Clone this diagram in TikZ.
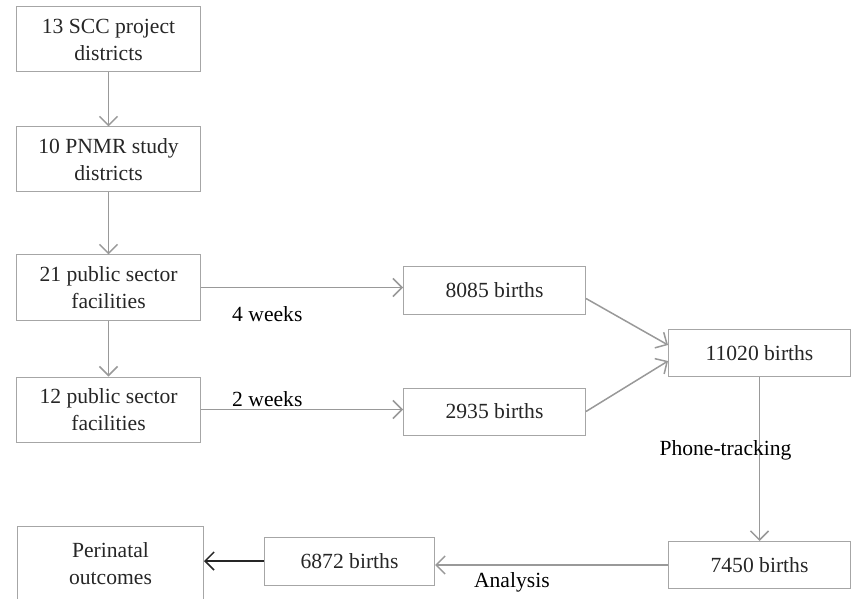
\documentclass[tikz,border=0pt]{standalone}
\usepackage{fontspec}
\setmainfont{Liberation Serif}
\usetikzlibrary{arrows.meta}

\begin{document}
\begin{tikzpicture}[node distance=60pt, >={Straight Barb[length=4.5pt,width=9pt]}, font=\fontsize{10.8}{13.5}\selectfont]
			\tikzset{
				site/.style={rectangle, minimum width=91.5pt, minimum height=32.5pt, align=center, draw=gray!70, line width=0.5pt, text=black!85},
				count/.style={rectangle, minimum width=91pt, minimum height=23.5pt, align=center, draw=gray!70, line width=0.5pt, text=black!85},
				arrow/.style={->, draw=gray!80, line width=0.75pt},
			}
			\useasboundingbox (-54.25pt,19.75pt) rectangle ++(427pt,-299pt);
			\node[site](dist13){13 SCC project\\districts};
			\node[site, below of=dist13](dist10){10 PNMR study\\districts};
			\node[site, below of=dist10, yshift=-4pt](fac21){21 public sector\\facilities};
			\node[site, below of=fac21, yshift=-1pt](fac12){12 public sector\\facilities};
			\node[count, right of=fac21, xshift=133pt, yshift=-1.5pt](b8085){8085 births};
			\node[count, right of=fac12, xshift=133pt, yshift=-1pt](b2935){2935 births};
			\node[count, right of=b8085, xshift=72.5pt, yshift=-31.25pt](b11020){11020 births};
			\node[count, below of=b11020, yshift=-46pt](b7450){7450 births};
			\node[count, left of=b7450, xshift=-145pt, yshift=2pt, minimum width=85pt, minimum height=24pt](b6872){6872 births};
			\node[site, left of=b6872, xshift=-59.5pt, yshift=-1.25pt, minimum width=93pt, minimum height=37.5pt](outcome){Perinatal\\outcomes};
			%draw arrows
			\draw[arrow] (dist13) -- (dist10);
			\draw[arrow] (dist10) -- (fac21);
			\draw[arrow] (fac21) -- (fac12);
			\draw[arrow] (fac21.east) -- node[below=6pt, pos=0.33] {4 weeks} (fac21.east -| b8085.west);
			\draw[arrow] (fac12.east) -- node[above, pos=0.33, inner sep=1pt] {2 weeks} (fac12.east -| b2935.west);
			\draw[arrow] (b8085.-5) -- (b11020.175);
			\draw[arrow] (b2935.east) -- (b11020.185);
			\draw[arrow] (b11020) -- node[pos=0.45, xshift=-17pt] {Phone-tracking} (b7450);
			\draw[arrow] (b7450.west) -- node[below, pos=0.67] {Analysis} (b7450.west -| b6872.east);
			\draw[arrow, draw=gray!30!black] (b6872.west) -- (b6872.west -| outcome.east);
		\end{tikzpicture}
\end{document}
